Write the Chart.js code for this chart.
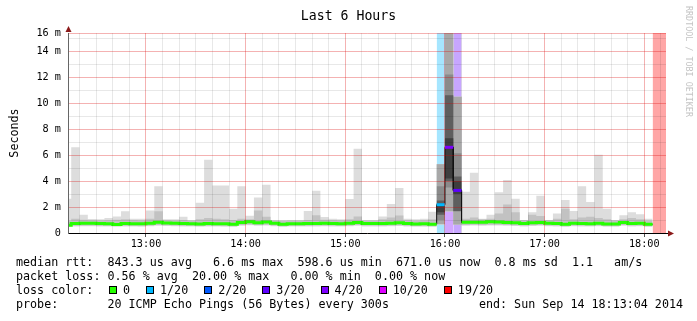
<!DOCTYPE html>
<html>
<head>
<meta charset="utf-8">
<title>Last 6 Hours</title>
<script src="https://cdn.jsdelivr.net/npm/chart.js@4.4.1/dist/chart.umd.min.js"></script>
<style>
    body { margin: 0; background: #fff; }
    #wrap { position: relative; width: 697px; height: 321px; font-family: 'DejaVu Sans Mono', monospace; color: #000; }
    #chart { position: absolute; left: 0; top: 0; }
    .title { position: absolute; left: 0; top: 8px; width: 697px; text-align: center; font-size: 13.2px; line-height: 16px; }
    .mark { position: absolute; left: 684px; top: 6px; writing-mode: vertical-rl; font-size: 8.4px; color: #c4c4c4; }
    .line { position: absolute; left: 16px; font-size: 11.7px; line-height: 14px; white-space: pre; }
    .line.end { left: auto; right: 14px; }
    #lossKey { position: absolute; left: 109px; top: 283px; display: flex; font-size: 11.7px; line-height: 14px; }
    #lossKey .item { display: flex; margin-right: 16px; white-space: pre; }
    #lossKey .box { width: 6px; height: 6px; border: 1px solid #000; margin: 3px 6px 0 0; }
</style>
</head>
<body>
<div id="wrap">
    <canvas id="chart" width="697" height="321"></canvas>
    <div class="title">Last 6 Hours</div>
    <div class="mark">RRDTOOL / TOBI OETIKER</div>
    <div class="line" style="top:255px">median rtt:  843.3 us avg   6.6 ms max  598.6 us min  671.0 us now  0.8 ms sd  1.1   am/s</div>
    <div class="line" style="top:269px">packet loss: 0.56 % avg  20.00 % max   0.00 % min  0.00 % now</div>
    <div class="line" style="top:283px">loss color:</div>
    <div id="lossKey"></div>
    <div class="line" style="top:297px">probe:       20 ICMP Echo Pings (56 Bytes) every 300s</div>
    <div class="line end" style="top:297px">end: Sun Sep 14 18:13:04 2014</div>
</div>
<script>
// 5 minute bins, the first one starts before the left edge
const binStart = '12:10';
const binMinutes = 5;
const viewStart = '12:13:04';
const viewEnd = '18:13:04';

const hourTicks = ['13:00', '14:00', '15:00', '16:00', '17:00', '18:00'];
const yTickValues = [0, 2, 4, 6, 8, 10, 12, 14, 15.4];
const yTickLabels = ['0', '2 m', '4 m', '6 m', '8 m', '10 m', '12 m', '14 m', '16 m'];
const yMinorValues = [1, 3, 5, 7, 9, 11, 13, 15];
const yTop = 15.4;

// median rtt per bin (ms)
const median = [
    0.60, 0.74, 0.76, 0.75, 0.74, 0.72, 0.66, 0.73, 0.72, 0.71,
    0.76, 0.82, 0.77, 0.75, 0.73, 0.72, 0.70, 0.73, 0.72, 0.71,
    0.68, 0.80, 0.86, 0.78, 0.84, 0.76, 0.68, 0.72, 0.72, 0.73,
    0.74, 0.75, 0.74, 0.72, 0.76, 0.80, 0.74, 0.74, 0.73, 0.76,
    0.78, 0.73, 0.70, 0.71, 0.68, 2.18, 6.60, 3.28, 0.82, 0.83,
    0.82, 0.86, 0.84, 0.80, 0.78, 0.74, 0.78, 0.80, 0.76, 0.74,
    0.68, 0.76, 0.74, 0.72, 0.75, 0.70, 0.70, 0.80, 0.74, 0.76,
    0.67, null, null
];

// outer smoke (fastest / slowest ping)
const smokeMin = [
    0.48, 0.50, 0.52, 0.52, 0.50, 0.50, 0.48, 0.50, 0.50, 0.49,
    0.52, 0.55, 0.53, 0.52, 0.50, 0.50, 0.48, 0.50, 0.50, 0.49,
    0.47, 0.55, 0.60, 0.55, 0.58, 0.52, 0.47, 0.50, 0.50, 0.50,
    0.51, 0.52, 0.51, 0.50, 0.52, 0.55, 0.51, 0.51, 0.50, 0.52,
    0.54, 0.50, 0.48, 0.49, 0.47, 0.64, 1.66, 0.64, 0.56, 0.57,
    0.56, 0.58, 0.57, 0.55, 0.54, 0.51, 0.54, 0.55, 0.52, 0.51,
    0.47, 0.52, 0.51, 0.50, 0.52, 0.48, 0.48, 0.55, 0.51, 0.52,
    0.47, null, null
];
const smokeMax = [
    2.64, 6.60, 1.41, 1.08, 1.05, 1.15, 1.28, 1.67, 1.10, 1.10,
    1.74, 3.60, 1.05, 1.05, 1.25, 1.00, 2.33, 5.64, 3.66, 3.66,
    1.87, 3.60, 1.33, 2.74, 3.72, 1.00, 1.00, 1.00, 1.00, 1.70,
    3.26, 1.24, 1.10, 1.05, 2.61, 6.48, 1.00, 1.00, 1.28, 2.23,
    3.46, 1.10, 1.05, 1.10, 1.64, 5.30, 16.0, 10.5, 3.18, 4.64,
    1.10, 1.41, 3.13, 4.08, 2.64, 1.00, 1.60, 2.87, 1.00, 1.50,
    2.54, 1.70, 3.60, 2.38, 6.03, 1.87, 1.00, 1.36, 1.60, 1.44,
    1.10, null, null
];

// second smoke band
const band2Lo = [
    0.54, 0.56, 0.58, 0.58, 0.56, 0.56, 0.54, 0.56, 0.56, 0.55,
    0.58, 0.62, 0.59, 0.58, 0.56, 0.56, 0.54, 0.56, 0.56, 0.55,
    0.53, 0.61, 0.66, 0.61, 0.64, 0.58, 0.53, 0.56, 0.56, 0.56,
    0.57, 0.58, 0.57, 0.56, 0.58, 0.61, 0.57, 0.57, 0.56, 0.58,
    0.60, 0.56, 0.54, 0.55, 0.53, 0.70, 1.68, 0.66, 0.62, 0.63,
    0.62, 0.64, 0.63, 0.61, 0.60, 0.57, 0.60, 0.61, 0.58, 0.57,
    0.53, 0.58, 0.57, 0.56, 0.58, 0.54, 0.54, 0.61, 0.57, 0.58,
    0.53, null, null
];
const band2Hi = [
    0.95, 1.10, 1.02, 0.98, 0.96, 0.98, 1.02, 1.05, 0.98, 0.96,
    1.10, 1.67, 0.98, 0.96, 1.00, 0.95, 1.05, 1.15, 1.10, 1.05,
    1.00, 1.10, 1.05, 1.73, 1.25, 0.95, 0.92, 0.94, 0.94, 1.00,
    1.36, 1.02, 0.98, 0.96, 1.05, 1.28, 0.95, 0.94, 1.05, 1.20,
    1.35, 0.98, 0.95, 0.96, 1.05, 5.30, 16.0, 10.5, 1.10, 1.20,
    1.05, 1.10, 1.50, 2.20, 1.60, 0.98, 1.40, 1.30, 0.98, 1.10,
    1.87, 1.05, 1.20, 1.25, 1.15, 1.05, 0.96, 1.05, 1.15, 1.05,
    0.95, null, null
];

// lost pings (of 20) per bin, the last two bins have no data
const loss = [
    0, 0, 0, 0, 0, 0, 0, 0, 0, 0,
    0, 0, 0, 0, 0, 0, 0, 0, 0, 0,
    0, 0, 0, 0, 0, 0, 0, 0, 0, 0,
    0, 0, 0, 0, 0, 0, 0, 0, 0, 0,
    0, 0, 0, 0, 0, 1, 4, 3, 0, 0,
    0, 0, 0, 0, 0, 0, 0, 0, 0, 0,
    0, 0, 0, 0, 0, 0, 0, 0, 0, 0,
    0, 20, 20
];

// darker smoke, only in the spike around 16:00
const coreTimes = ['15:55', '16:00', '16:05'];
const band3Lo = [0.68, 1.68, 0.66];
const band3Hi = [5.30, 16.0, 10.5];
const band4Lo = [1.00, 3.50, 1.66];
const band4Hi = [3.60, 12.2, 6.15];
const band5Lo = [1.40, 4.00, 1.70];
const band5Hi = [2.50, 10.6, 4.35];
const band6Lo = [1.60, 4.20, 3.00];
const band6Hi = [2.30, 7.30, 4.00];

const lossLevels = [0, 1, 2, 3, 4, 10, 19];
const lossLabels = ['0', '1/20', '2/20', '3/20', '4/20', '10/20', '19/20'];
const lossColors = ['#26ff00', '#00b8ff', '#0059ff', '#5e00ff', '#7e00ff', '#dd00ff', '#ff0000'];

// helpers
function toMin(str) {
    const p = str.split(':').map(Number);
    return p[0] * 60 + p[1] + (p[2] || 0) / 60;
}
function fmtTime(v) {
    const h = Math.floor(v / 60), m = Math.round(v % 60);
    return h + ':' + String(m).padStart(2, '0');
}
function levelOf(l) {
    let k = 0;
    lossLevels.forEach((lv, i) => { if (l >= lv) k = i; });
    return k;
}
function shade(hex, a) {
    const n = parseInt(hex.slice(1), 16);
    return 'rgba(' + (n >> 16) + ',' + ((n >> 8) & 255) + ',' + (n & 255) + ',' + a + ')';
}
// two points per bin so the line steps at the bin edges
function stepPoints(times, values) {
    const pts = [];
    values.forEach((v, i) => {
        if (v === null) {
            pts.push({ x: times[i], y: null });
            return;
        }
        pts.push({ x: times[i], y: v }, { x: times[i] + binMinutes, y: v });
    });
    return pts;
}

const binTimes = loss.map((l, i) => toMin(binStart) + i * binMinutes);
const coreBinTimes = coreTimes.map(toMin);

const datasets = [];

// loss background
lossLevels.forEach((lv, k) => {
    if (k === 0) return;
    const vals = loss.map(l => (l > 0 && levelOf(l) === k) ? yTop : null);
    if (vals.every(v => v === null)) return;
    datasets.push({
        data: stepPoints(binTimes, vals),
        fill: 'origin',
        backgroundColor: shade(lossColors[k], 0.35),
        borderColor: 'transparent',
        borderWidth: 0,
        order: 20
    });
});

// smoke bands (lo line, then hi line filled down to it)
function band(times, lo, hi, color, order) {
    datasets.push({ data: stepPoints(times, lo), borderColor: 'transparent', borderWidth: 0, fill: false, order: order });
    datasets.push({ data: stepPoints(times, hi), borderColor: 'transparent', borderWidth: 0, backgroundColor: color, fill: '-1', order: order });
}
band(binTimes, smokeMin, smokeMax, '#dddddd', 16);
band(binTimes, band2Lo, band2Hi, '#c2c2c2', 15);
band(coreBinTimes, band3Lo, band3Hi, '#a8a8a8', 14);
band(coreBinTimes, band4Lo, band4Hi, '#8a8a8a', 13);
band(coreBinTimes, band5Lo, band5Hi, '#5e5e5e', 12);
band(coreBinTimes, band6Lo, band6Hi, '#3e3e3e', 11);

// median: thin dark line plus loss coloured segments
datasets.push({
    data: stepPoints(binTimes, median),
    borderColor: '#111111',
    borderWidth: 1,
    fill: false,
    order: 3
});
lossLevels.forEach((lv, k) => {
    const vals = median.map((v, i) => levelOf(loss[i]) === k ? v : null);
    if (vals.every(v => v === null)) return;
    datasets.push({
        data: stepPoints(binTimes, vals),
        borderColor: lossColors[k],
        borderWidth: 3,
        borderCapStyle: 'butt',
        fill: false,
        order: 2
    });
});

datasets.forEach(d => { d.clip = 0; d.pointRadius = 0; });

// small arrows at the axis ends
const axisArrows = {
    id: 'axisArrows',
    afterDraw(chart) {
        const ctx = chart.ctx;
        const a = chart.chartArea;
        ctx.save();
        ctx.strokeStyle = '#000';
        ctx.lineWidth = 1;
        ctx.beginPath();
        ctx.moveTo(a.right, a.bottom + 0.5);
        ctx.lineTo(a.right + 3, a.bottom + 0.5);
        ctx.stroke();
        ctx.fillStyle = '#8b1a1a';
        ctx.beginPath();
        ctx.moveTo(a.right + 2, a.bottom - 2.5);
        ctx.lineTo(a.right + 8, a.bottom + 0.5);
        ctx.lineTo(a.right + 2, a.bottom + 3.5);
        ctx.closePath();
        ctx.fill();
        ctx.beginPath();
        ctx.moveTo(a.left - 2.5, a.top - 1);
        ctx.lineTo(a.left + 0.5, a.top - 7);
        ctx.lineTo(a.left + 3.5, a.top - 1);
        ctx.closePath();
        ctx.fill();
        ctx.restore();
    }
};

const majorGrid = 'rgba(220, 0, 0, 0.3)';
const minorGrid = 'rgba(0, 0, 0, 0.09)';

Chart.defaults.font.family = "'DejaVu Sans Mono', monospace";
Chart.defaults.color = '#000';

new Chart(document.getElementById('chart'), {
    type: 'line',
    data: { datasets: datasets },
    plugins: [axisArrows],
    options: {
        responsive: false,
        animation: false,
        devicePixelRatio: 1,
        events: [],
        layout: { padding: { left: 0, right: 31, top: 33, bottom: 68 } },
        elements: { point: { radius: 0 }, line: { tension: 0, borderJoinStyle: 'miter' } },
        plugins: { legend: { display: false }, tooltip: { enabled: false } },
        scales: {
            x: {
                type: 'linear',
                min: toMin(viewStart),
                max: toMin(viewEnd),
                afterBuildTicks: scale => {
                    const ticks = [];
                    for (let v = Math.ceil(toMin(viewStart) / 10) * 10; v <= toMin(viewEnd); v += 10) {
                        ticks.push({ value: v });
                    }
                    scale.ticks = ticks;
                },
                afterFit: scale => { scale.height = 20; },
                grid: {
                    z: 1,
                    lineWidth: 1,
                    tickLength: 4,
                    color: c => (c.tick && c.tick.value % 60 === 0) ? majorGrid : minorGrid,
                    tickColor: c => (c.tick && c.tick.value % 60 === 0) ? '#555' : 'transparent'
                },
                border: { color: '#000', width: 1, z: 2 },
                ticks: {
                    autoSkip: false,
                    maxRotation: 0,
                    minRotation: 0,
                    padding: 1,
                    font: { size: 10.2 },
                    callback: v => hourTicks.includes(fmtTime(v)) ? fmtTime(v) : ''
                }
            },
            y: {
                min: 0,
                max: yTop,
                afterBuildTicks: scale => {
                    scale.ticks = yTickValues.concat(yMinorValues)
                        .sort((p, q) => p - q)
                        .map(v => ({ value: v }));
                },
                afterFit: scale => { scale.width = 68; },
                grid: {
                    z: 1,
                    lineWidth: 1,
                    drawTicks: false,
                    color: c => (c.tick && yMinorValues.includes(c.tick.value)) ? minorGrid : majorGrid
                },
                border: { color: '#666', width: 1, z: 2 },
                ticks: {
                    padding: 7,
                    autoSkip: false,
                    font: { size: 10.2 },
                    callback: v => {
                        const i = yTickValues.indexOf(v);
                        return i >= 0 ? yTickLabels[i] : '';
                    }
                },
                title: {
                    display: true,
                    text: 'Seconds',
                    font: { size: 11.7 },
                    padding: { top: 7.5, bottom: 0 }
                }
            }
        }
    }
});

// loss colour key
const key = document.getElementById('lossKey');
lossLabels.forEach((label, k) => {
    const item = document.createElement('div');
    item.className = 'item';
    const box = document.createElement('div');
    box.className = 'box';
    box.style.background = lossColors[k];
    const text = document.createElement('span');
    text.textContent = label;
    item.appendChild(box);
    item.appendChild(text);
    key.appendChild(item);
});
</script>
</body>
</html>
